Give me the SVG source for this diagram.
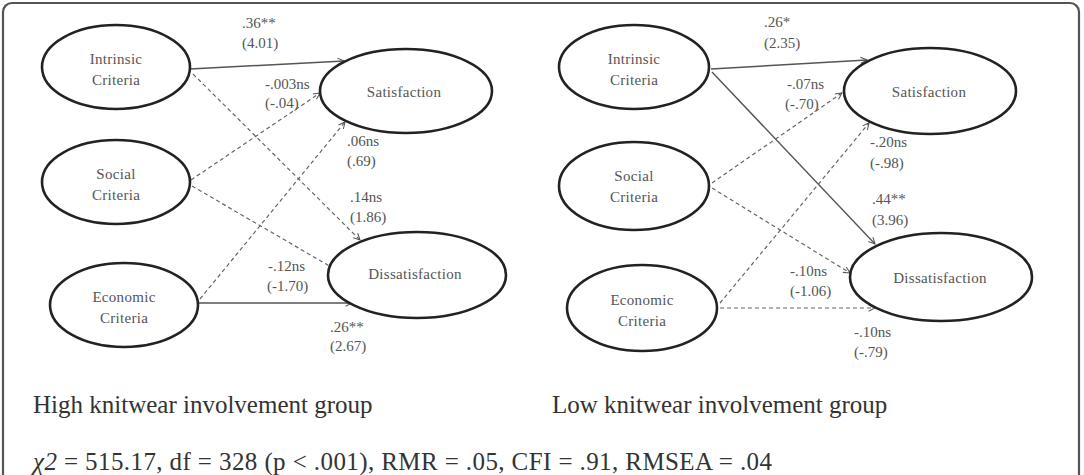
<svg xmlns="http://www.w3.org/2000/svg" width="1084" height="475" viewBox="0 0 1084 475">
<defs>
<marker id="ah" viewBox="0 0 10 10" refX="9" refY="5" markerWidth="8" markerHeight="8" markerUnits="userSpaceOnUse" orient="auto">
<polyline points="1,1 9,5 1,9" fill="none" stroke="#555" stroke-width="1.3"/>
</marker>
<style>
.frame{fill:none;stroke:#555;stroke-width:2.2}
.node ellipse{fill:#fff;stroke:#222;stroke-width:2.6}
.nt{font-family:"Liberation Serif",serif;font-size:15px;fill:#555;text-anchor:middle;letter-spacing:0.3px}
.lbl{font-family:"Liberation Serif",serif;font-size:15px;fill:#555}
.solid{stroke:#555;stroke-width:1.4;fill:none;marker-end:url(#ah)}
.dash{stroke:#666;stroke-width:1.2;fill:none;stroke-dasharray:4 3;marker-end:url(#ah)}
.big{font-family:"Liberation Serif",serif;font-size:25px;fill:#333}
</style>
</defs>
<rect class="frame" x="3" y="3" width="1076" height="500" rx="9"/>
<g id="connectors">
<line class="solid" x1="190" y1="69" x2="344" y2="61"/>
<line class="dash" x1="193" y1="74" x2="360" y2="240"/>
<line class="dash" x1="191" y1="180" x2="320" y2="93"/>
<line class="dash" x1="192" y1="186" x2="338" y2="271"/>
<line class="dash" x1="200" y1="299" x2="345" y2="122"/>
<line class="solid" x1="198" y1="303" x2="352" y2="303" stroke-width="2"/>
<line class="solid" x1="711" y1="69" x2="867" y2="60"/>
<line class="solid" x1="712" y1="72" x2="875" y2="244"/>
<line class="dash" x1="712" y1="183" x2="842" y2="93"/>
<line class="dash" x1="712" y1="188" x2="850" y2="273"/>
<line class="dash" x1="720" y1="303" x2="869" y2="123"/>
<line class="dash" x1="720" y1="308" x2="875" y2="308"/>
</g>
<g id="left-intrinsic" class="node"><ellipse cx="116" cy="67" rx="74" ry="42"/><text class="nt" x="116" y="64">Intrinsic</text><text class="nt" x="116" y="85">Criteria</text></g>
<g id="left-social" class="node"><ellipse cx="116" cy="182" rx="74" ry="42"/><text class="nt" x="116" y="179">Social</text><text class="nt" x="116" y="200">Criteria</text></g>
<g id="left-economic" class="node"><ellipse cx="124" cy="305" rx="74" ry="42"/><text class="nt" x="124" y="302">Economic</text><text class="nt" x="124" y="323">Criteria</text></g>
<g id="left-satisfaction" class="node"><ellipse cx="406" cy="91" rx="86" ry="42"/><text class="nt" x="404" y="97">Satisfaction</text></g>
<g id="left-dissatisfaction" class="node"><ellipse cx="417" cy="275" rx="89" ry="43"/><text class="nt" x="415" y="279">Dissatisfaction</text></g>
<g id="right-intrinsic" class="node"><ellipse cx="634" cy="67" rx="75" ry="42"/><text class="nt" x="634" y="64">Intrinsic</text><text class="nt" x="634" y="85">Criteria</text></g>
<g id="right-social" class="node"><ellipse cx="634" cy="186" rx="75" ry="44"/><text class="nt" x="634" y="181">Social</text><text class="nt" x="634" y="202">Criteria</text></g>
<g id="right-economic" class="node"><ellipse cx="642" cy="308" rx="75" ry="43"/><text class="nt" x="642" y="305">Economic</text><text class="nt" x="642" y="326">Criteria</text></g>
<g id="right-satisfaction" class="node"><ellipse cx="930" cy="91" rx="86" ry="43"/><text class="nt" x="929" y="97">Satisfaction</text></g>
<g id="right-dissatisfaction" class="node"><ellipse cx="941" cy="277" rx="91" ry="44"/><text class="nt" x="940" y="283">Dissatisfaction</text></g>
<g id="labels">
<text class="lbl" x="242" y="28">.36**</text><text class="lbl" x="242" y="48">(4.01)</text>
<text class="lbl" x="265" y="89">-.003ns</text><text class="lbl" x="265" y="108">(-.04)</text>
<text class="lbl" x="347" y="146">.06ns</text><text class="lbl" x="347" y="166">(.69)</text>
<text class="lbl" x="350" y="202">.14ns</text><text class="lbl" x="350" y="222">(1.86)</text>
<text class="lbl" x="268" y="271">-.12ns</text><text class="lbl" x="267" y="291">(-1.70)</text>
<text class="lbl" x="330" y="332">.26**</text><text class="lbl" x="330" y="351">(2.67)</text>
<text class="lbl" x="764" y="27">.26*</text><text class="lbl" x="764" y="48">(2.35)</text>
<text class="lbl" x="787" y="89">-.07ns</text><text class="lbl" x="785" y="109">(-.70)</text>
<text class="lbl" x="870" y="147">-.20ns</text><text class="lbl" x="870" y="168">(-.98)</text>
<text class="lbl" x="872" y="204">.44**</text><text class="lbl" x="872" y="225">(3.96)</text>
<text class="lbl" x="790" y="276">-.10ns</text><text class="lbl" x="790" y="296">(-1.06)</text>
<text class="lbl" x="854" y="337">-.10ns</text><text class="lbl" x="854" y="357">(-.79)</text>
</g>
<text class="big" x="33" y="413">High knitwear involvement group</text>
<text class="big" x="552" y="413">Low knitwear involvement group</text>
<text class="big" x="33" y="470" textLength="739" lengthAdjust="spacing"><tspan font-style="italic">χ2</tspan> = 515.17, df = 328 (p &lt; .001), RMR = .05, CFI = .91, RMSEA = .04</text>
</svg>
